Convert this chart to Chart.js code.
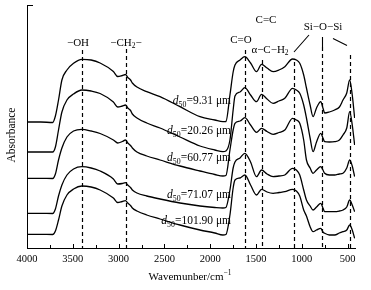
<!DOCTYPE html>
<html>
<head>
<meta charset="utf-8">
<script src="https://cdn.jsdelivr.net/npm/chart.js@4.4.0/dist/chart.umd.min.js"></script>
<style>
  html, body { margin: 0; padding: 0; background: #fff; }
</style>
</head>
<body>
<canvas id="ftir" width="371" height="290"></canvas>
<script>
// wavenumber grid (cm-1), all 5 spectra read at the same points
var wavenumber = [4000, 3850, 3720, 3690, 3656, 3619, 3564, 3492, 3401, 3300,
  3202, 3057, 3010, 2960, 2925, 2900, 2870, 2850, 2800, 2693,
  2548, 2330, 2112, 1950, 1862, 1829, 1785, 1750, 1730, 1675,
  1622, 1560, 1495, 1440, 1380, 1314, 1250, 1186, 1102, 1060,
  1023, 980, 950, 910, 878, 840, 794, 770, 751, 700,
  642, 590, 551, 510, 478, 450, 424];

// absorbance (arbitrary, curves stacked with offsets as in the figure)
var abs_9_31 = [126, 126, 125.5, 132, 148, 168, 178, 184.7, 188.7, 188,
  185, 176.5, 171.5, 172.5, 173.5, 170.5, 168, 165, 161, 156.3,
  151.3, 141.3, 131.3, 128, 126.3, 126.5, 153, 176, 183, 188,
  191.3, 185, 176.3, 183.7, 180, 176.3, 178, 181.3, 189, 188,
  184.7, 173, 160, 143, 131.3, 140, 146.3, 140, 135, 136,
  138, 141, 148, 155, 168, 153, 130];
var abs_20_26 = [96, 96, 96, 101, 118, 136, 148, 154, 158, 157,
  154.5, 146, 141, 142, 143, 140, 137.5, 134, 130, 125,
  120, 111, 102, 98, 96.3, 97, 108, 138, 152, 156,
  160.3, 153, 146.3, 153.7, 149, 144.7, 147, 149.7, 159.7, 158,
  154.7, 143, 130, 110, 96.3, 106, 114.7, 110, 106.3, 106,
  106.3, 108, 113, 120, 136.3, 123, 103];
var abs_60_77 = [69.7, 69.7, 69.5, 74, 88, 100, 111, 117, 118.7, 117,
  114.5, 108, 105, 106.5, 108, 105, 102.5, 100, 96, 92,
  88, 82, 77, 73.5, 72, 72.5, 98, 118, 124.7, 127,
  130.3, 123, 115.7, 119.7, 116.5, 113.7, 115.5, 118, 129.7, 128,
  124.7, 108, 88, 80, 74.7, 78, 81.3, 78, 74.7, 73,
  73, 74, 74.7, 80, 88, 82, 71.3];
var abs_71_07 = [34.7, 34.7, 34.5, 39, 52, 63, 73, 79, 81.3, 80,
  77, 69, 64, 64.5, 65.3, 63, 60.5, 58, 55, 52,
  49, 45, 42, 40.5, 40, 40.5, 58, 80, 86, 90,
  94.7, 86, 71.3, 78, 74, 71.3, 72, 73, 79.7, 78,
  73, 58, 48, 42, 38, 41, 44.7, 40, 36.3, 36.3,
  36.3, 37, 38, 41, 48, 43, 36.3];
var abs_101_90 = [13.7, 13.7, 13.5, 17, 28, 42, 53, 59, 62, 61,
  58, 50, 45.5, 46.5, 47.3, 45, 42.5, 40, 37, 33,
  29, 23, 18, 15, 13, 13.5, 33, 60, 68, 70,
  73, 63, 53, 58.7, 56, 54.7, 55.5, 56.3, 58.7, 57,
  52, 38, 32, 21.3, 16.3, 18, 19.7, 16, 14.7, 13,
  13, 15, 16.3, 18, 23, 18, 9.7];

var sizeLabels = ['9.31', '20.26', '60.77', '71.07', '101.90'];
var xTicks = [4000, 3500, 3000, 2500, 2000, 1500, 1000, 500];
var bandLines = [3400, 2920, 1620, 1430, 1090, 780, 470];

var serif = '"Liberation Serif", "Times New Roman", serif';

function toPoints(arr) {
  return wavenumber.map(function (w, i) { return { x: w, y: arr[i] }; });
}

// draws text pieces with sub/superscripts
function drawRich(c, parts, x, y, size, align) {
  var segs = parts.map(function (p) {
    var s = (p.sub || p.sup) ? size * 0.68 : size;
    var f = (p.it ? 'italic ' : '') + s + 'px ' + serif;
    c.font = f;
    return { t: p.t, f: f, w: c.measureText(p.t).width, dy: p.sub ? size * 0.3 : (p.sup ? -size * 0.38 : 0) };
  });
  var total = segs.reduce(function (s, g) { return s + g.w; }, 0);
  var cx = align === 'right' ? x - total : (align === 'center' ? x - total / 2 : x);
  c.textAlign = 'left';
  c.textBaseline = 'middle';
  segs.forEach(function (g) {
    c.font = g.f;
    c.fillText(g.t, cx, y + g.dy);
    cx += g.w;
  });
}

var overlay = {
  id: 'overlay',
  beforeDatasetsDraw: function (chart) {
    var c = chart.ctx, xs = chart.scales.x, a = chart.chartArea;
    var tops = [50, 49, 50, 60, 62, 47, 55]; // where each dashed band line starts
    c.save();
    c.strokeStyle = '#000';
    c.lineWidth = 1.2;
    c.setLineDash([4, 3]);
    bandLines.forEach(function (w, i) {
      var x = Math.round(xs.getPixelForValue(w)) + 0.5;
      c.beginPath();
      c.moveTo(x, tops[i]);
      c.lineTo(x, a.bottom);
      c.stroke();
    });
    c.restore();
  },
  afterDraw: function (chart) {
    var c = chart.ctx, xs = chart.scales.x, a = chart.chartArea;
    c.save();
    c.strokeStyle = '#000';
    c.fillStyle = '#000';
    c.lineWidth = 1;
    // inward ticks on x axis
    for (var v = 500; v <= 4000; v += 250) {
      var x = Math.round(xs.getPixelForValue(v)) + 0.5;
      var len = v % 500 === 0 ? 4 : 3;
      c.beginPath();
      c.moveTo(x, a.bottom);
      c.lineTo(x, a.bottom - len);
      c.stroke();
    }
    // small cap on top of y axis
    c.beginPath();
    c.moveTo(a.left, Math.round(a.top) + 0.5);
    c.lineTo(a.left + 6, Math.round(a.top) + 0.5);
    c.stroke();

    // Si-O-Si leader lines
    var xo = Math.round(xs.getPixelForValue(780)) + 0.5;
    c.lineWidth = 1.1;
    c.beginPath();
    c.moveTo(294, 52); c.lineTo(309, 35);
    c.moveTo(xo, 37); c.lineTo(xo, 47);
    c.moveTo(333, 38.5); c.lineTo(347, 45.5);
    c.stroke();

    // band labels
    var fs = 11;
    drawRich(c, [{ t: '\u2212OH' }], 78, 43, fs, 'center');
    drawRich(c, [{ t: '\u2212CH' }, { t: '2', sub: true }, { t: '\u2212' }], 126, 43, fs, 'center');
    drawRich(c, [{ t: 'C=O' }], 241, 40, fs, 'center');
    drawRich(c, [{ t: 'C=C' }], 266, 20, fs, 'center');
    drawRich(c, [{ t: '\u03b1\u2212C\u2212H' }, { t: '2', sub: true }], 270, 50, fs, 'center');
    drawRich(c, [{ t: 'Si\u2212O\u2212Si' }], 323, 27, fs, 'center');

    // sample labels
    var ly = [101, 131, 158, 195, 221];
    sizeLabels.forEach(function (s, i) {
      drawRich(c, [{ t: 'd', it: true }, { t: '50', sub: true }, { t: '=' + s + ' \u03bcm' }], 231, ly[i], 11.5, 'right');
    });

    // axis titles
    drawRich(c, [{ t: 'Wavemunber/cm' }, { t: '\u22121', sup: true }], 190, 277, 11, 'center');
    c.translate(12, 135);
    c.rotate(-Math.PI / 2);
    drawRich(c, [{ t: 'Absorbance' }], 0, 0, 11.5, 'center');
    c.restore();
  }
};

var ds = [abs_9_31, abs_20_26, abs_60_77, abs_71_07, abs_101_90].map(function (arr) {
  return {
    data: toPoints(arr),
    borderColor: '#000',
    borderWidth: 1.3,
    pointRadius: 0,
    fill: false,
    cubicInterpolationMode: 'monotone'
  };
});

var ctx = document.getElementById('ftir').getContext('2d');
var chart = new Chart(ctx, {
  type: 'line',
  data: { datasets: ds },
  options: {
    responsive: false,
    animation: false,
    events: [],
    layout: { padding: { top: 5, right: 16, left: 0, bottom: 0 } },
    plugins: { legend: { display: false }, tooltip: { enabled: false } },
    scales: {
      x: {
        type: 'linear',
        reverse: true,
        min: 420,
        max: 4000,
        afterBuildTicks: function (s) { s.ticks = xTicks.map(function (v) { return { value: v }; }); },
        afterFit: function (s) { s.height = 42; },
        grid: { display: false, drawTicks: false },
        border: { display: true, color: '#000', width: 1 },
        ticks: {
          color: '#000',
          font: { family: serif, size: 10.5 },
          padding: 5,
          maxRotation: 0,
          autoSkip: false,
          callback: function (v) { return String(v); }
        }
      },
      y: {
        min: 0,
        max: 243,
        afterFit: function (s) { s.width = 27; },
        grid: { display: false, drawTicks: false },
        border: { display: true, color: '#000', width: 1 },
        ticks: { display: false }
      }
    }
  },
  plugins: [overlay]
});
</script>
</body>
</html>
